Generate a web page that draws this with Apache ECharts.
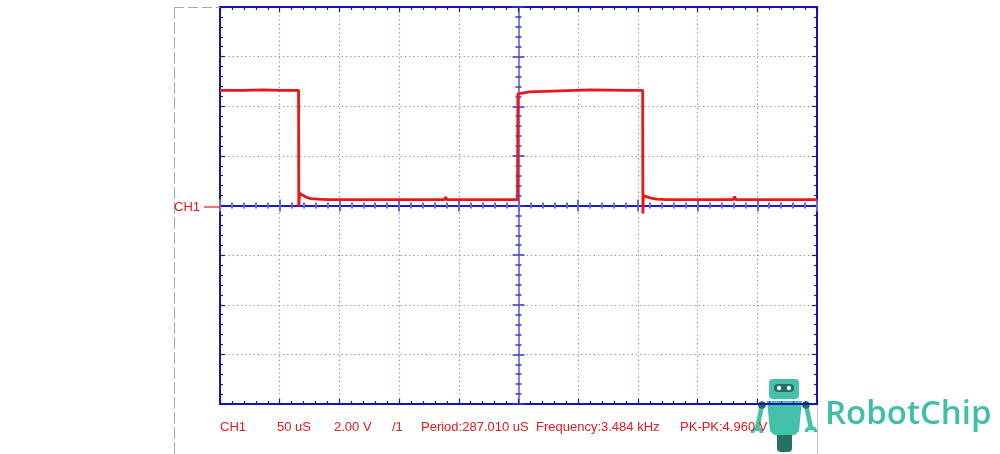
<!DOCTYPE html>
<html>
<head>
<meta charset="utf-8">
<script src="https://cdn.jsdelivr.net/npm/echarts@6/dist/echarts.min.js"></script>
<style>
html,body{margin:0;padding:0;background:#fff;}
#chart{width:1000px;height:454px;}
</style>
</head>
<body>
<div id="chart"></div>
<script>
// ---- Data (time in uS relative to trigger, volts) ----
const timeRange = [-250, 250];        // 10 div x 50 uS
const voltRange = [-8, 8];            // 8 div x 2 V
const timePerDiv = 50;
const voltPerDiv = 2;
const traceTime = [-250, -230, -214, -200, -184.2, -184.0, -183.4, -181, -178, -174, -168, -160, -120, -62, -61, -60, -20, -0.8, -0.5, 0.5, 9, 10, 60, 90, 104.0, 104.2, 104.5, 107, 111, 116, 124, 150, 180, 181, 182, 220, 250];
const traceVolt = [4.64, 4.64, 4.66, 4.64, 4.64, -0.04, 0.5, 0.42, 0.34, 0.28, 0.26, 0.24, 0.24, 0.24, 0.34, 0.24, 0.24, 0.24, 4.5, 4.58, 4.58, 4.64, 4.66, 4.64, 4.64, -0.32, 0.4, 0.36, 0.3, 0.26, 0.24, 0.24, 0.24, 0.36, 0.24, 0.24, 0.24];
const infoTexts = ['CH1', '50 uS', '2.00 V', '/1', 'Period:287.010 uS', 'Frequency:3.484 kHz', 'PK-PK:4.960 V'];
const channelLabel = 'CH1';
const brandName = 'RobotChip';

// ---- Styling ----
const BORDER = '#1616aa';
const CENTER_H = '#1c1cb8';
const CENTER_V = '#8080ec';
const TICK_LIGHT = '#6a6ae0';
const GRIDDOT = '#8484d8';
const RED = '#e81818';
const TEAL = '#45c0aa';
const DARKTEAL = '#27705f';

const chart = echarts.init(document.getElementById('chart'), null, {renderer: 'canvas'});

function borderX(pos, split) {
  return {
    type: 'value', position: pos, min: timeRange[0], max: timeRange[1], interval: timePerDiv,
    axisLine: {show: true, onZero: false, lineStyle: {color: BORDER, width: 2}},
    axisTick: {show: true, inside: true, length: 5, lineStyle: {color: BORDER, width: 1.2}},
    minorTick: {show: true, splitNumber: 5, length: 3, lineStyle: {color: BORDER, width: 1.2}},
    axisLabel: {show: false},
    splitLine: {show: split, lineStyle: {color: GRIDDOT, width: 1.2, type: [1.2, 3]}},
    minorSplitLine: {show: false}
  };
}
function borderY(pos, split) {
  return {
    type: 'value', position: pos, min: voltRange[0], max: voltRange[1], interval: voltPerDiv,
    axisLine: {show: true, onZero: false, lineStyle: {color: BORDER, width: 2}},
    axisTick: {show: true, inside: true, length: 5, lineStyle: {color: BORDER, width: 1.2}},
    minorTick: {show: true, splitNumber: 5, length: 3, lineStyle: {color: BORDER, width: 1.2}},
    axisLabel: {show: false},
    splitLine: {show: split, lineStyle: {color: GRIDDOT, width: 1.2, type: [1.2, 3]}},
    minorSplitLine: {show: false}
  };
}
function centerX(inside) {
  return {
    type: 'value', position: 'bottom', min: timeRange[0], max: timeRange[1], interval: timePerDiv,
    axisLine: {show: true, onZero: true, onZeroAxisIndex: 0, lineStyle: {color: CENTER_H, width: 2}},
    axisTick: {show: true, inside: inside, length: 6, lineStyle: {color: TICK_LIGHT, width: 2}},
    minorTick: {show: true, splitNumber: 5, length: 3, lineStyle: {color: TICK_LIGHT, width: 2}},
    axisLabel: {show: false}, splitLine: {show: false}
  };
}
function centerY(inside) {
  return {
    type: 'value', position: 'left', min: voltRange[0], max: voltRange[1], interval: voltPerDiv,
    axisLine: {show: true, onZero: true, onZeroAxisIndex: 0, lineStyle: {color: CENTER_V, width: 2}},
    axisTick: {show: true, inside: inside, length: 6, lineStyle: {color: '#3a3ac8', width: 1.5}},
    minorTick: {show: true, splitNumber: 5, length: 3, lineStyle: {color: '#3a3ac8', width: 1.5}},
    axisLabel: {show: false}, splitLine: {show: false}
  };
}

const trace = traceTime.map((t, i) => [t, traceVolt[i]]);

// info texts positions (style only)
const infoX = [220, 277, 334, 392, 421, 536, 680];
const textEls = infoTexts.map((s, i) => ({
  type: 'text', left: infoX[i], top: 421, z: 10,
  style: {text: s, fill: RED, font: '13px "Liberation Sans", Arial, sans-serif'}
}));

const option = {
  animation: false,
  backgroundColor: '#ffffff',
  grid: {left: 220, right: 183, top: 7, bottom: 50, containLabel: false},
  xAxis: [borderX('bottom', true), borderX('top', false), centerX(true), centerX(false)],
  yAxis: [borderY('left', true), borderY('right', false), centerY(true), centerY(false)],
  series: [{
    type: 'line', xAxisIndex: 0, yAxisIndex: 0, data: trace, symbol: 'none',
    lineStyle: {color: RED, width: 2.8}, z: 5, silent: true
  }],
  graphic: [
    // gray dashed frame on left
    {type: 'line', z: 1, shape: {x1: 174, y1: 7.5, x2: 220, y2: 7.5}, style: {stroke: '#a8a8a8', lineWidth: 1, lineDash: [10, 4]}},
    {type: 'line', z: 1, shape: {x1: 174.5, y1: 7, x2: 174.5, y2: 454}, style: {stroke: '#a8a8a8', lineWidth: 1, lineDash: [12, 3]}},
    {type: 'line', z: 1, shape: {x1: 817.5, y1: 405, x2: 817.5, y2: 454}, style: {stroke: '#c4c4c4', lineWidth: 1}},
    // channel marker
    {type: 'text', left: 174, top: 201, z: 10, style: {text: channelLabel, fill: RED, font: '13px "Liberation Sans", Arial, sans-serif'}},
    {type: 'line', z: 10, shape: {x1: 204, y1: 207, x2: 220, y2: 207}, style: {stroke: RED, lineWidth: 1.2}},
    ...textEls,
    // robot logo
    {type: 'group', z: 20, children: [
      {type: 'line', shape: {x1: 762, y1: 405, x2: 757, y2: 429}, style: {stroke: TEAL, lineWidth: 4.5, lineCap: 'round'}},
      {type: 'line', shape: {x1: 806, y1: 405, x2: 811, y2: 428}, style: {stroke: TEAL, lineWidth: 4.5, lineCap: 'round'}},
      {type: 'arc', shape: {cx: 757, cy: 433, r: 4.5, startAngle: 0, endAngle: Math.PI, clockwise: false}, style: {stroke: TEAL, lineWidth: 3.5, fill: null}},
      {type: 'arc', shape: {cx: 811, cy: 432, r: 4.5, startAngle: 0, endAngle: Math.PI, clockwise: false}, style: {stroke: TEAL, lineWidth: 3.5, fill: null}},
      {type: 'rect', shape: {x: 777, y: 430, width: 15, height: 22, r: [0, 0, 4, 4]}, style: {fill: DARKTEAL}},
      {type: 'polygon', shape: {points: [[767, 401], [802, 401], [799, 431], [795, 435], [774, 435], [770, 431]]}, style: {fill: TEAL}},
      {type: 'circle', shape: {cx: 762, cy: 405, r: 3.8}, style: {fill: DARKTEAL}},
      {type: 'circle', shape: {cx: 806, cy: 405, r: 3.8}, style: {fill: DARKTEAL}},
      {type: 'rect', shape: {x: 769, y: 379, width: 30, height: 20, r: 4}, style: {fill: TEAL}},
      {type: 'rect', shape: {x: 774, y: 384, width: 20, height: 8, r: 4}, style: {fill: DARKTEAL}},
      {type: 'circle', shape: {cx: 779, cy: 388, r: 2.2}, style: {fill: '#ffffff'}},
      {type: 'circle', shape: {cx: 789, cy: 388, r: 2.2}, style: {fill: '#ffffff'}}
    ]},
    {type: 'text', left: 825, top: 398, z: 20, style: {text: brandName, fill: '#3fbea8', font: '600 33px "Open Sans", sans-serif'}}
  ]
};
chart.setOption(option);
</script>
</body>
</html>
